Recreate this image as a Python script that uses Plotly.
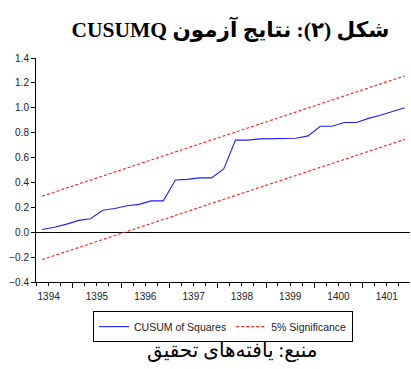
import plotly.graph_objects as go

# Quarterly observations (Persian calendar years)
quarters = ["1394Q2", "1394Q3", "1394Q4",
            "1395Q1", "1395Q2", "1395Q3", "1395Q4",
            "1396Q1", "1396Q2", "1396Q3", "1396Q4",
            "1397Q1", "1397Q2", "1397Q3", "1397Q4",
            "1398Q1", "1398Q2", "1398Q3", "1398Q4",
            "1399Q1", "1399Q2", "1399Q3", "1399Q4",
            "1400Q1", "1400Q2", "1400Q3", "1400Q4",
            "1401Q1", "1401Q2", "1401Q3", "1401Q4"]

cusumsq = [0.022, 0.040, 0.065,
           0.095, 0.108, 0.176, 0.190,
           0.213, 0.224, 0.252, 0.252,
           0.420, 0.425, 0.437, 0.437,
           0.508, 0.740, 0.740, 0.750,
           0.752, 0.752, 0.755, 0.774,
           0.852, 0.852, 0.882, 0.882,
           0.915, 0.940, 0.970, 1.000]

band_quarters = ["1394Q2", "1401Q4"]
upper_band = [0.290, 1.256]
lower_band = [-0.220, 0.746]

title_text = "\u202Bشکل (۲): نتایج آزمون CUSUMQ\u202C"
source_text = "منبع: یافته‌های تحقیق"
series_names = ["CUSUM of Squares", "5% Significance"]


def q_to_date(q):
    y = int(q[:4])
    n = int(q[-1])
    month = {1: "02", 2: "05", 3: "08", 4: "11"}[n]
    return f"{y:04d}-{month}-15"


x = [q_to_date(q) for q in quarters]
xb = [q_to_date(q) for q in band_quarters]

fig = go.Figure()
fig.add_trace(go.Scatter(x=x, y=cusumsq, mode="lines", name=series_names[0],
                         line=dict(color="#1f1fff", width=1.1)))
fig.add_trace(go.Scatter(x=xb, y=upper_band, mode="lines", name=series_names[1],
                         line=dict(color="#ff2020", width=1.1, dash="3px,2px")))
fig.add_trace(go.Scatter(x=xb, y=lower_band, mode="lines", name=series_names[1],
                         showlegend=False,
                         line=dict(color="#ff2020", width=1.1, dash="3px,2px")))

tick_font = dict(family="Liberation Sans, Arial", size=10, color="#222")

fig.update_layout(
    width=411, height=369,
    margin=dict(l=36, r=1, t=58, b=87),
    paper_bgcolor="white", plot_bgcolor="white",
    title=dict(text=title_text, x=0.52, xanchor="center", xref="paper",
               yref="container", y=1 - 29 / 369, yanchor="middle",
               font=dict(family="Liberation Serif, DejaVu Serif, DejaVu Sans", size=21.5,
                         color="black", weight="bold")),
    showlegend=True,
    legend=dict(orientation="h", x=0.5, xanchor="center", y=-0.13, yanchor="top",
                bordercolor="black", borderwidth=1, bgcolor="white",
                font=dict(family="Liberation Sans, Arial", size=10.5, color="#222"),
                itemwidth=30, tracegroupgap=0),
    xaxis=dict(type="date", range=["1394-03-29", "1401-12-25"],
               dtick="M12", tick0="1394-01-01", tickformat="%Y",
               ticklabelmode="period", ticks="outside", ticklen=5, tickcolor="black",
               showline=True, linecolor="black", linewidth=1, showgrid=False,
               zeroline=False, tickfont=tick_font,
               minor=dict(dtick="M3", tick0="1394-01-01", ticks="outside", ticklen=3,
                          tickcolor="black", showgrid=False)),
    yaxis=dict(range=[-0.4, 1.4], dtick=0.2, tick0=0, tickformat=".1f",
               ticks="outside", ticklen=4, tickcolor="black",
               showline=True, linecolor="black", linewidth=1, showgrid=False,
               zeroline=True, zerolinecolor="black", zerolinewidth=1,
               tickfont=tick_font),
)

fig.add_annotation(text=source_text, xref="paper", yref="paper", x=0.525, y=-0.305,
                   xanchor="center", yanchor="middle", showarrow=False,
                   font=dict(family="Liberation Serif, DejaVu Serif, DejaVu Sans", size=20,
                             color="black"))

fig.write_html("out.html", config={"displayModeBar": False},
               post_script="document.body.style.margin='0';document.body.style.overflow='hidden';")
